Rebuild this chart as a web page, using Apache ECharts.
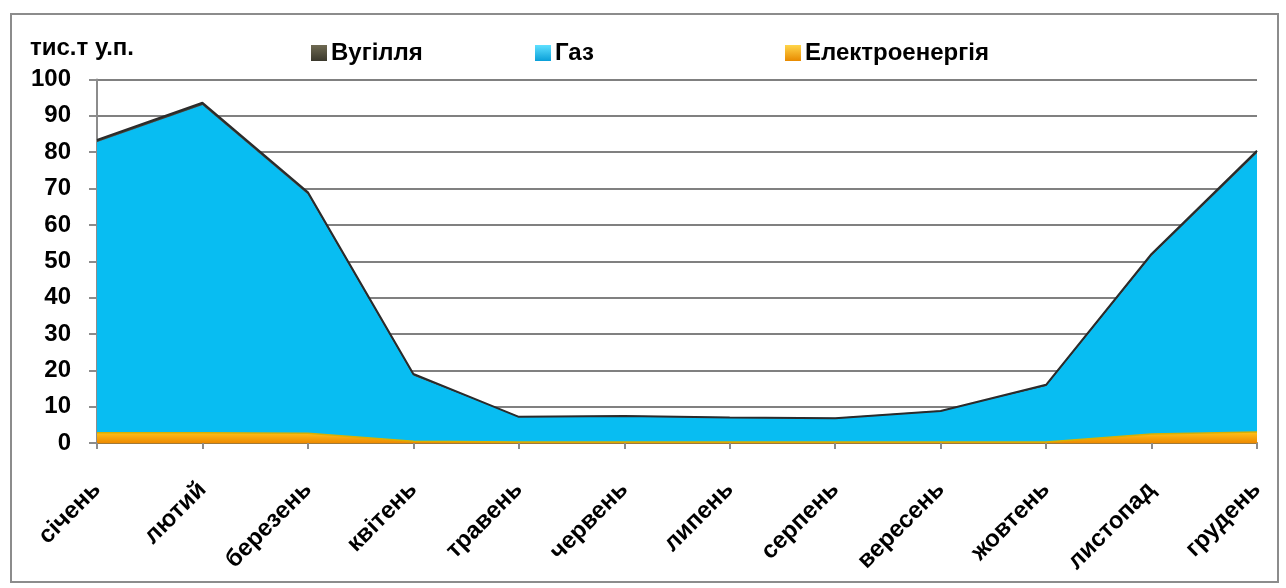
<!DOCTYPE html>
<html>
<head>
<meta charset="utf-8">
<script src="https://cdn.jsdelivr.net/npm/echarts@6/dist/echarts.min.js"></script>
<style>
  html, body { margin: 0; padding: 0; background: #fff; }
  #frame { position: absolute; left: 10px; top: 13px; width: 1265px; height: 566px; border: 2px solid #8c8c8c; }
  #chart { position: absolute; left: 0; top: 0; width: 1286px; height: 588px; }
</style>
</head>
<body>
<div id="frame"></div>
<div id="chart"></div>
<script>
// Monthly fuel consumption, thousand tonnes of fuel equivalent
const months = ['січень', 'лютий', 'березень', 'квітень', 'травень', 'червень',
                'липень', 'серпень', 'вересень', 'жовтень', 'листопад', 'грудень'];
const electricity = [2.8, 2.8, 2.7, 0.5, 0.3, 0.3, 0.3, 0.3, 0.3, 0.3, 2.5, 3.0];
const gas         = [80.0, 90.2, 65.7, 18.1, 6.9, 7.1, 6.7, 6.5, 8.5, 15.4, 49.0, 76.8];
const coal        = [0.6, 0.6, 0.6, 0.4, 0, 0, 0, 0, 0, 0.3, 0.5, 0.6];
const yTicks = { min: 0, max: 100, step: 10 };

const chart = echarts.init(document.getElementById('chart'));
const font = 'Liberation Sans, Arial, sans-serif';
const labelFont = { fontSize: 24, fontWeight: 'bold', color: '#000', fontFamily: font };

function boxIcon(c1, c2) {
  return {
    type: 'linear', x: 0, y: 0, x2: 0, y2: 1,
    colorStops: [{ offset: 0, color: c1 }, { offset: 1, color: c2 }]
  };
}

function legendEntry(name, left, c1, c2) {
  return {
    left: left, top: 36, itemWidth: 16, itemHeight: 16, icon: 'rect', itemGap: 0,
    textStyle: Object.assign({}, labelFont, { padding: [0, 0, 0, -1] }),
    data: [{ name: name, itemStyle: { color: boxIcon(c1, c2) } }]
  };
}

chart.setOption({
  animation: false,
  textStyle: { fontFamily: font },
  grid: { left: 97, right: 29, top: 79.5, bottom: 145 },
  title: {
    text: 'тис.т у.п.', left: 25, top: 31,
    textStyle: labelFont
  },
  legend: [
    legendEntry('Вугілля', 306, '#6f6a52', '#3a382c'),
    legendEntry('Газ', 530, '#5fe0ff', '#0a9fd8'),
    legendEntry('Електроенергія', 780, '#ffd54a', '#e88a00')
  ],
  xAxis: {
    type: 'category', data: months, boundaryGap: false,
    axisLine: { lineStyle: { color: '#a07a3a', width: 2 } },
    axisTick: { show: true, length: 6, lineStyle: { color: '#8c8c8c', width: 2 } },
    axisLabel: Object.assign({ rotate: 45, margin: 43 }, labelFont),
    splitLine: { show: false }
  },
  yAxis: {
    type: 'value', min: yTicks.min, max: yTicks.max, interval: yTicks.step,
    axisLine: { show: true, lineStyle: { color: '#8c8c8c', width: 2 } },
    axisTick: { show: true, length: 8, lineStyle: { color: '#8c8c8c', width: 2 } },
    axisLabel: Object.assign({ margin: 26 }, labelFont),
    splitLine: { lineStyle: { color: '#808080', width: 2 } }
  },
  series: [
    {
      name: 'Електроенергія', type: 'line', stack: 'fuel', data: electricity,
      symbol: 'none', z: 3,
      lineStyle: { color: '#d8b000', width: 1.5 },
      itemStyle: { color: '#f5a000' },
      areaStyle: {
        opacity: 1,
        color: { type: 'linear', x: 0, y: 0, x2: 0, y2: 1,
          colorStops: [{ offset: 0, color: '#ffc21a' }, { offset: 1, color: '#ee8a00' }] }
      }
    },
    {
      name: 'Газ', type: 'line', stack: 'fuel', data: gas,
      symbol: 'none', z: 2,
      lineStyle: { color: '#1aa8d8', width: 1 },
      itemStyle: { color: '#0abdf2' },
      areaStyle: { opacity: 1, color: '#08bdf2' }
    },
    {
      name: 'Вугілля', type: 'line', stack: 'fuel', data: coal,
      symbol: 'none', z: 4,
      lineStyle: { color: '#2b2b2b', width: 2 },
      itemStyle: { color: '#4a4636' },
      areaStyle: { opacity: 1, color: '#3d3a2e' }
    }
  ]
});
</script>
</body>
</html>
